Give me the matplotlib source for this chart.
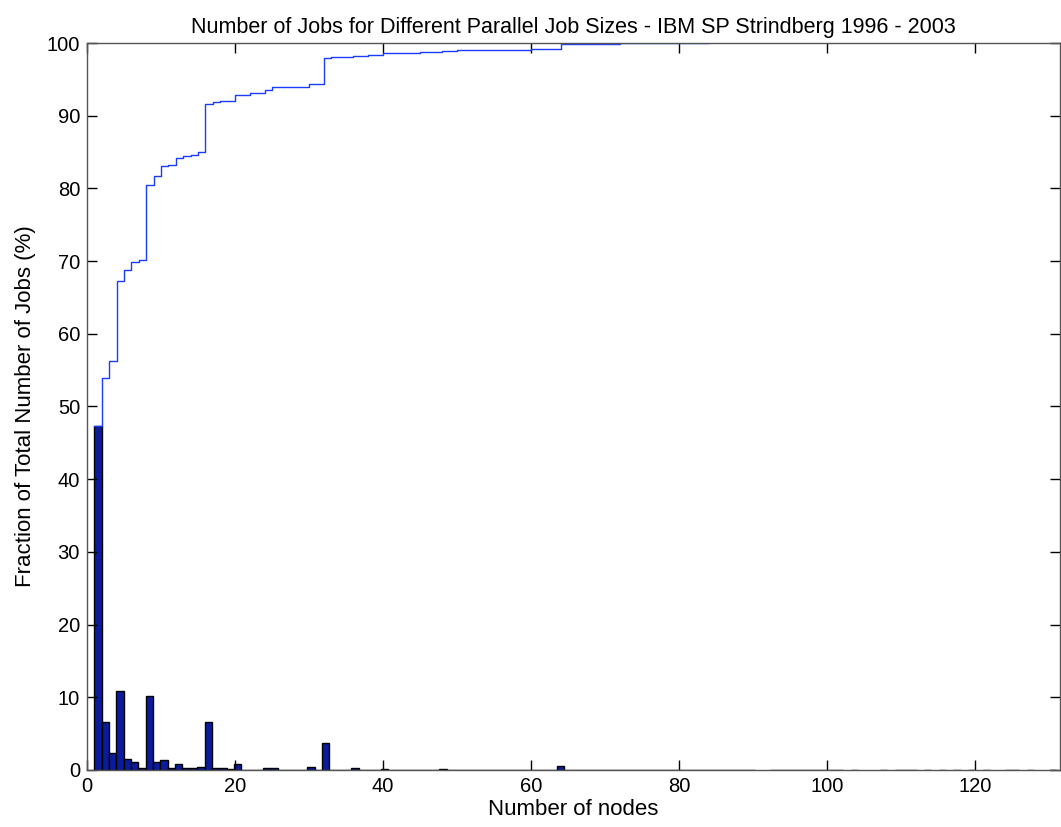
import matplotlib
matplotlib.use("Agg")
import matplotlib.pyplot as plt
import numpy as np

plt.rcParams['font.family'] = ['Liberation Sans', 'DejaVu Sans']

# histogram: fraction of jobs (%) per job size (nodes)
big_nodes = list(range(1, 41))
big_frac = [47.3, 6.55, 2.3, 10.8, 1.5, 1.05, 0.25, 10.2, 1.05, 1.4,
            0.2, 0.8, 0.2, 0.2, 0.35, 6.55, 0.2, 0.2, 0.1, 0.8,
            0.04, 0.04, 0.04, 0.25, 0.25, 0.04, 0.04, 0.04, 0.04, 0.35,
            0.04, 3.7, 0.04, 0.04, 0.04, 0.25, 0.04, 0.04, 0.04, 0.12]
small_nodes = (list(range(41, 91)) + list(range(93, 102))
               + [102, 104, 108, 110, 111, 112, 114, 116, 118, 120, 122, 125, 126, 128, 131])
small_frac = [0.03] * len(small_nodes)
small_frac[small_nodes.index(48)] = 0.15
small_frac[small_nodes.index(64)] = 0.6

# cumulative fraction (%)
cdf_nodes = [1, 2, 3, 4, 5, 6, 7, 8, 9, 10, 11, 12, 13, 14, 15, 16, 17, 18,
             20, 22, 24, 25, 29, 30, 32, 33, 36, 38, 40, 45, 48, 50, 60, 64, 72, 84]
cdf_vals = [47.3, 53.9, 56.3, 67.2, 68.8, 69.9, 70.2, 80.5, 81.7, 83.1, 83.2, 84.2,
            84.4, 84.6, 85.0, 91.6, 91.9, 92.0, 92.9, 93.1, 93.5, 93.9, 94.0, 94.3,
            98.0, 98.1, 98.2, 98.4, 98.6, 98.8, 98.9, 99.1, 99.2, 99.8, 99.95, 100.0]

nodes = np.array(big_nodes + small_nodes)
frac = np.array(big_frac + small_frac)
binw = 127 / 128
centers = 1 + (nodes - 0.5) * binw   # hist-style bin centres

fig = plt.figure(figsize=(10.61, 8.27), dpi=100)
ax = fig.add_axes([0.082, 0.069, 0.917, 0.879])

ax.bar(centers, frac, width=binw, color='#0a1c9c', edgecolor='black', linewidth=1.0)
ax.step(cdf_nodes, cdf_vals, where='post', color='#1a3cff', linewidth=1.0)

ax.set_xlim(0, 131.5)
ax.set_ylim(0, 100)
ax.set_xticks(range(0, 121, 20))
ax.set_yticks(range(0, 101, 10))
ax.tick_params(direction='in', length=7, width=1, top=True, right=True,
               labelsize=14.5, pad=5)
for s in ax.spines.values():
    s.set_color('#555555')
    s.set_linewidth(1.0)

ax.set_title("Number of Jobs for Different Parallel Job Sizes - IBM SP Strindberg 1996 - 2003",
             fontsize=15.5, pad=7)
ax.set_xlabel("Number of nodes", fontsize=16, labelpad=2)
ax.set_ylabel("Fraction of Total Number of Jobs (%)", fontsize=16, labelpad=8)

fig.savefig("out.png", dpi=100)
